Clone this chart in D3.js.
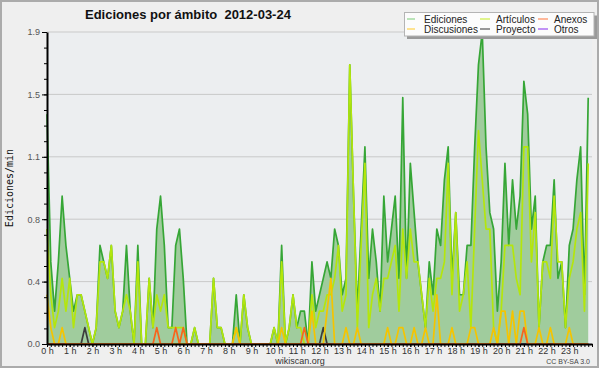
<!DOCTYPE html>
<html>
<head>
<meta charset="utf-8">
<script src="https://cdn.jsdelivr.net/npm/d3@7"></script>
<style>
  body { margin: 0; background: #ffffff; }
  svg { display: block; }
</style>
</head>
<body>
<div id="chart"></div>
<script>
const width = 600;
const height = 370;

// Edits per minute, one value every 10 minutes (144 per day)
const ediciones = [
  1.4,0.5,0.2,0.5,0.9,0.6,0.4,0.2,0.3,0.3,0.2,0.1,
  0,0.1,0.6,0.5,0.4,0.6,0.2,0.1,0.2,0.6,0.2,0,
  0.6,0,0,0.4,0.1,0.7,0.9,0.6,0.1,0.1,0.6,0.7,
  0.4,0,0,0.1,0,0,0,0,0.4,0.1,0.1,0,
  0,0,0.3,0,0.3,0.1,0,0,0,0,0,0,
  0.1,0,0.6,0,0.1,0.3,0.1,0.2,0.2,0,0.5,0.2,
  0.3,0.4,0.5,0.4,0.7,0.6,0.3,0.4,1.7,0.9,0.2,0.7,
  1.2,0.4,0.7,0.5,0.2,0.9,0.5,0.7,0.9,0.4,1.5,0.4,
  1.1,0.8,0.5,0.3,0.1,0.5,0.3,0.7,0.6,1.0,1.2,0.4,
  0.8,0.3,0.3,0.6,0.6,1.2,1.7,1.9,1.2,0.8,0.7,0.2,
  0.5,1.1,0.6,1.0,0.7,0.9,1.6,1.4,0.7,0.9,0.1,0.5,
  0.6,0.6,1.0,0.4,0.5,0.1,0.6,0.7,1.0,1.2,0.3,1.5
];
const articulos = [
  0.7,0.3,0.1,0.2,0.4,0.2,0.4,0.1,0.3,0.3,0.2,0.1,
  0,0.1,0.5,0.5,0.4,0.6,0.2,0.1,0.2,0.3,0.2,0,
  0.5,0,0,0.4,0.1,0.3,0.2,0.3,0.1,0.1,0.1,0.1,
  0.1,0,0,0.1,0,0,0,0,0.4,0.1,0.1,0,
  0,0,0.1,0,0.3,0.1,0,0,0,0,0,0,
  0.1,0,0.5,0,0.1,0.3,0.1,0.1,0,0,0.3,0.1,
  0.2,0.2,0.3,0.3,0.4,0.6,0.2,0.3,1.7,0.9,0.1,0.6,
  1.1,0.1,0.3,0.4,0.2,0.4,0.4,0.5,0.6,0.2,0.7,0.4,
  0.7,0.5,0.5,0.3,0.1,0.4,0.2,0.4,0.4,0.5,1.1,0.3,
  0.8,0.2,0.3,0.5,0.1,0.7,1.3,1.0,0.7,0.7,0.1,0,
  0.2,0.6,0.6,0.6,0.4,0.3,1.2,1.2,0.5,0.8,0.1,0.5,
  0.5,0.4,0.9,0.5,0.5,0.1,0.4,0.5,0.7,0.8,0.2,1.1
];
const discusiones = [
  0.3,0.1,0,0,0.1,0,0,0,0,0,0,0,
  0,0,0,0,0,0,0,0,0,0,0,0,
  0,0,0,0,0,0,0,0,0,0,0,0,
  0,0,0,0,0,0,0,0,0,0,0,0,
  0,0,0.1,0,0,0,0,0,0,0,0,0,
  0,0,0.1,0,0,0,0,0,0,0,0.2,0,
  0,0,0.2,0.4,0,0,0,0.1,0,0,0.1,0,
  0,0,0,0,0,0,0.1,0,0,0.1,0.1,0,
  0,0.1,0,0,0.1,0,0,0.3,0,0,0,0.1,
  0,0,0,0,0.1,0.1,0,0,0,0,0.1,0,
  0.2,0.2,0,0.2,0,0.2,0.2,0,0,0,0.1,0,
  0,0.1,0,0,0,0,0.1,0,0,0,0,0
];
const proyecto = [
  0,0,0,0,0,0,0,0,0,0,0.1,0,
  0,0,0,0,0,0,0,0,0,0,0,0,
  0,0,0,0,0,0,0,0,0,0,0,0,
  0,0,0,0,0,0,0,0,0,0,0,0,
  0,0,0,0,0,0,0,0,0,0,0,0,
  0,0,0,0,0,0,0,0,0,0,0,0,
  0,0.1,0,0,0,0,0,0,0,0,0,0,
  0,0,0,0,0,0,0,0,0,0,0,0,
  0,0,0,0,0,0,0,0,0,0,0,0,
  0,0,0,0,0,0,0,0,0,0,0,0,
  0,0,0,0,0,0,0,0,0,0,0,0,
  0,0,0,0,0,0,0,0,0,0,0,0
];
const anexos = [
  0,0,0,0,0,0,0,0,0,0,0,0,
  0,0,0,0,0,0,0,0,0,0,0,0,
  0,0,0,0,0,0.1,0,0,0,0,0.1,0,
  0.1,0,0,0,0,0,0,0,0,0,0,0,
  0,0,0,0,0,0,0,0,0,0,0,0,
  0,0,0,0,0,0,0,0,0.1,0,0,0,
  0,0,0,0,0,0,0,0,0,0,0,0,
  0,0,0,0,0,0,0,0,0,0,0,0,
  0,0,0,0,0,0,0,0,0,0,0,0,
  0,0,0,0,0,0,0,0,0,0,0,0,
  0,0,0,0,0,0,0.1,0,0,0,0,0,
  0,0,0,0,0,0,0,0,0,0,0,0
];
const otros = [
  0,0,0,0,0,0,0,0,0,0,0,0,
  0,0,0,0,0,0,0,0,0,0,0,0,
  0,0,0,0,0,0,0,0,0,0,0,0,
  0,0,0,0,0,0,0,0,0,0,0,0,
  0,0,0,0,0,0,0,0,0,0,0,0,
  0,0,0,0,0,0,0,0,0,0,0,0,
  0,0,0,0,0,0,0,0,0,0,0,0,
  0,0,0,0,0,0,0,0,0,0,0,0,
  0,0,0,0,0,0,0,0,0,0,0,0,
  0,0,0,0,0,0,0,0,0,0,0,0,
  0,0,0,0,0,0,0,0,0,0,0,0,
  0,0,0,0,0,0,0,0,0,0,0,0
];

const hourLabels = ["0 h","1 h","2 h","3 h","4 h","5 h","6 h","7 h","8 h","9 h","10 h","11 h",
  "12 h","13 h","14 h","15 h","16 h","17 h","18 h","19 h","20 h","21 h","22 h","23 h"];
const yTickValues = [0, 0.38, 0.76, 1.14, 1.52, 1.9];
const yTickLabels = ["0.0", "0.4", "0.8", "1.1", "1.5", "1.9"];

const legendNames = ["Ediciones", "Artículos", "Anexos", "Discusiones", "Proyecto", "Otros"];

drawChart();

function drawChart() {
    const margin = { left: 47, top: 32 };
    const plotRight = 592;
    const plotBottom = 344;

    const svg = d3.select("#chart").append("svg")
        .attr("width", width)
        .attr("height", height);

    //Background and frame
    svg.append("rect")
        .attr("x", 1).attr("y", 1)
        .attr("width", 597).attr("height", 366)
        .attr("fill", "#efefef")
        .attr("stroke", "#ababab")
        .attr("stroke-width", 2);

    svg.append("rect")
        .attr("x", margin.left).attr("y", margin.top)
        .attr("width", plotRight - margin.left)
        .attr("height", plotBottom - margin.top)
        .attr("fill", "#eceef0");

    //Scales
    const scaleX = d3.scaleLinear().domain([0, 144]).range([margin.left, plotRight]);
    const scaleY = d3.scaleLinear().domain([0, 1.9]).range([plotBottom, margin.top]);

    //Horizontal grid
    svg.append("g")
        .selectAll("line")
        .data(yTickValues.slice(1))
        .enter()
        .append("line")
        .attr("x1", margin.left).attr("x2", plotRight)
        .attr("y1", d => scaleY(d)).attr("y2", d => scaleY(d))
        .attr("stroke", "#c9c9c9")
        .attr("stroke-width", 1);

    //Ediciones area + lines
    const area = d3.area()
        .x((d, i) => scaleX(i))
        .y0(scaleY(0))
        .y1(d => scaleY(d));

    const line = d3.line()
        .x((d, i) => scaleX(i))
        .y(d => scaleY(d));

    svg.append("path")
        .attr("d", area(ediciones))
        .attr("fill", "#a0cc9d");

    const series = [
        { values: ediciones, color: "#36a636" },
        { values: articulos, color: "#b4e60c" },
        { values: otros, color: "#9933ee" },
        { values: proyecto, color: "#3c3c3c" },
        { values: discusiones, color: "#f5c400" },
        { values: anexos, color: "#f8641c" }
    ];

    svg.append("g")
        .selectAll("path")
        .data(series)
        .enter()
        .append("path")
        .attr("d", d => line(d.values))
        .attr("fill", "none")
        .attr("stroke", d => d.color)
        .attr("stroke-width", 1.7)
        .attr("stroke-linejoin", "round");

    //Y axis: major and minor ticks
    const minorY = d3.range(0, 21).map(i => i * 0.095);
    svg.append("g")
        .attr("transform", `translate(${margin.left}, 0)`)
        .call(d3.axisLeft(scaleY).tickValues(minorY).tickSize(3).tickSizeOuter(0).tickFormat(""))
        .call(g => g.select(".domain").remove())
        .call(g => g.selectAll("line").attr("stroke", "#000"));

    const axisY = svg.append("g")
        .attr("transform", `translate(${margin.left}, 0)`)
        .call(d3.axisLeft(scaleY)
            .tickValues(yTickValues)
            .tickSize(5)
            .tickSizeOuter(0)
            .tickPadding(2)
            .tickFormat((d, i) => yTickLabels[i]));
    axisY.select(".domain").attr("stroke", "#000").attr("stroke-width", 2);
    axisY.selectAll("line").attr("stroke", "#000");
    axisY.selectAll("text")
        .attr("font-family", "Liberation Sans, sans-serif")
        .attr("font-size", "9px")
        .attr("fill", "#555");

    //X axis: a tick every 10 minutes, label every hour
    const axisXMinor = svg.append("g")
        .attr("transform", `translate(0, ${plotBottom})`)
        .call(d3.axisBottom(scaleX).tickValues(d3.range(0, 145)).tickSize(3).tickSizeOuter(0).tickFormat(""));
    axisXMinor.select(".domain").attr("stroke", "#000").attr("stroke-width", 2);
    axisXMinor.selectAll("line").attr("stroke", "#000");

    const axisX = svg.append("g")
        .attr("transform", `translate(0, ${plotBottom})`)
        .call(d3.axisBottom(scaleX)
            .tickValues(d3.range(0, 24).map(h => h * 6))
            .tickSize(3)
            .tickSizeOuter(0)
            .tickPadding(1)
            .tickFormat((d, i) => hourLabels[i]));
    axisX.select(".domain").remove();
    axisX.selectAll("line").attr("stroke", "#000");
    axisX.selectAll("text")
        .attr("font-family", "Liberation Sans, sans-serif")
        .attr("font-size", "9px")
        .attr("fill", "#333");

    //Titles
    svg.append("text")
        .attr("x", 85).attr("y", 18.5)
        .attr("font-family", "Liberation Sans, sans-serif")
        .attr("font-weight", "bold")
        .attr("font-size", "13px")
        .attr("fill", "#111")
        .text("Ediciones por ámbito\u00a0\u00a02012-03-24");

    svg.append("text")
        .attr("transform", "translate(13, 188) rotate(-90)")
        .attr("text-anchor", "middle")
        .attr("font-family", "DejaVu Sans Mono, monospace")
        .attr("font-size", "10px")
        .attr("fill", "#111")
        .text("Ediciones/min");

    svg.append("text")
        .attr("x", 300).attr("y", 364)
        .attr("text-anchor", "middle")
        .attr("font-family", "Liberation Sans, sans-serif")
        .attr("font-size", "9px")
        .attr("fill", "#333")
        .text("wikiscan.org");

    svg.append("text")
        .attr("x", 590).attr("y", 364)
        .attr("text-anchor", "end")
        .attr("font-family", "Liberation Sans, sans-serif")
        .attr("font-size", "7px")
        .attr("fill", "#444")
        .text("CC BY-SA 3.0");

    drawLegend(svg);
}

function drawLegend(svg) {
    const legendColors = ["#8fd48c", "#cdee44", "#ff8a5a", "#ffd24a", "#555555", "#9a4ef0"];
    const colX = [407, 480, 538];
    const rowY = [19, 29];

    const legend = svg.append("g").attr("class", "legend");
    //shadow
    legend.append("rect")
        .attr("x", 407).attr("y", 15.5)
        .attr("width", 190).attr("height", 23.5)
        .attr("fill", "#9a9a9a");
    legend.append("rect")
        .attr("x", 404.5).attr("y", 12.5)
        .attr("width", 189.5).attr("height", 23.5)
        .attr("fill", "#fcfcfc")
        .attr("stroke", "#b4b4b4")
        .attr("stroke-width", 1);

    legendNames.forEach((name, i) => {
        const col = i % 3;
        const row = Math.floor(i / 3);
        const item = legend.append("g")
            .attr("transform", `translate(${colX[col]}, ${rowY[row]})`);
        item.append("line")
            .attr("x1", 0).attr("x2", col === 0 ? 8 : 10)
            .attr("y1", 0).attr("y2", 0)
            .attr("stroke", legendColors[i])
            .attr("stroke-width", 1.2);
        item.append("text")
            .attr("x", col === 0 ? 17 : 16)
            .attr("y", 3.6)
            .attr("font-family", "Liberation Sans, sans-serif")
            .attr("font-size", "10px")
            .attr("fill", "#222")
            .text(name);
    });
}
</script>
</body>
</html>
